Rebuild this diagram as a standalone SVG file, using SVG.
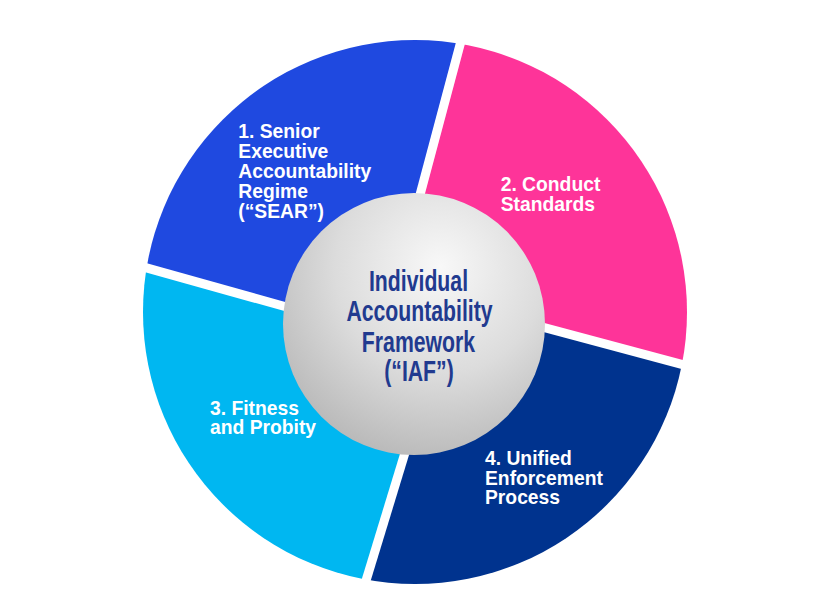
<svg xmlns="http://www.w3.org/2000/svg" width="829" height="611" viewBox="0 0 829 611">
<defs>
<clipPath id="ring"><circle cx="415" cy="312" r="272"/></clipPath>
<radialGradient id="sph" cx="0.6" cy="0.3" r="0.8" fx="0.6" fy="0.28">
<stop offset="0" stop-color="#f8f8f8"/>
<stop offset="0.5" stop-color="#dcdcdc"/>
<stop offset="1" stop-color="#b2b2b2"/>
</radialGradient>
</defs>
<style>
.lbl{font-family:"Liberation Sans",Arial,sans-serif;font-weight:bold;font-size:19.3px;fill:#ffffff}
.ctr{font-family:"Liberation Sans",Arial,sans-serif;font-weight:bold;font-size:29.5px;fill:#213a8f;text-anchor:middle}
.gap{stroke:#ffffff;stroke-width:9;fill:none}
</style>
<rect width="829" height="611" fill="#ffffff"/>
<g clip-path="url(#ring)">
<g id="seg1"><polygon points="470.6,5 382.9,334 100,254.8 100,5" fill="#1f49e0"/></g>
<g id="seg2"><polygon points="470.6,5 395.3,287.6 720,374.6 720,5" fill="#fe3499"/></g>
<g id="seg4"><polygon points="720,374.6 450.8,302.5 354,620 720,620" fill="#00338e"/></g>
<g id="seg3"><polygon points="354,620 436.6,349 100,254.8 100,620" fill="#00b7f1"/></g>
</g>
<g id="connectors">
<line class="gap" x1="470.6" y1="5" x2="382.9" y2="334"/>
<line class="gap" x1="720" y1="374.6" x2="395.3" y2="287.6"/>
<line class="gap" x1="354" y1="620" x2="450.8" y2="302.5"/>
<line class="gap" x1="100" y1="254.8" x2="436.6" y2="349"/>
</g>
<g id="label1">
<text class="lbl" x="238.3" y="138.3">1. Senior</text>
<text class="lbl" x="238.3" y="158.1">Executive</text>
<text class="lbl" x="238.3" y="177.9">Accountability</text>
<text class="lbl" x="238.3" y="197.7">Regime</text>
<text class="lbl" x="238.3" y="217.5">(“SEAR”)</text>
</g>
<g id="label2">
<text class="lbl" x="500.7" y="191">2. Conduct</text>
<text class="lbl" x="500.7" y="210.8">Standards</text>
</g>
<g id="label3">
<text class="lbl" x="210" y="415">3. Fitness</text>
<text class="lbl" x="210" y="434.3">and Probity</text>
</g>
<g id="label4">
<text class="lbl" x="485" y="465">4. Unified</text>
<text class="lbl" x="485" y="484.5">Enforcement</text>
<text class="lbl" x="485" y="504">Process</text>
</g>
<g id="center">
<circle cx="414" cy="324" r="131" fill="url(#sph)"/>
<text class="ctr" transform="translate(418.5,291) scale(0.72,1)">Individual</text>
<text class="ctr" transform="translate(419.5,321.4) scale(0.72,1)">Accountability</text>
<text class="ctr" transform="translate(418.5,351.7) scale(0.72,1)">Framework</text>
<text class="ctr" transform="translate(419,381) scale(0.72,1)">(“IAF”)</text>
</g>
</svg>
